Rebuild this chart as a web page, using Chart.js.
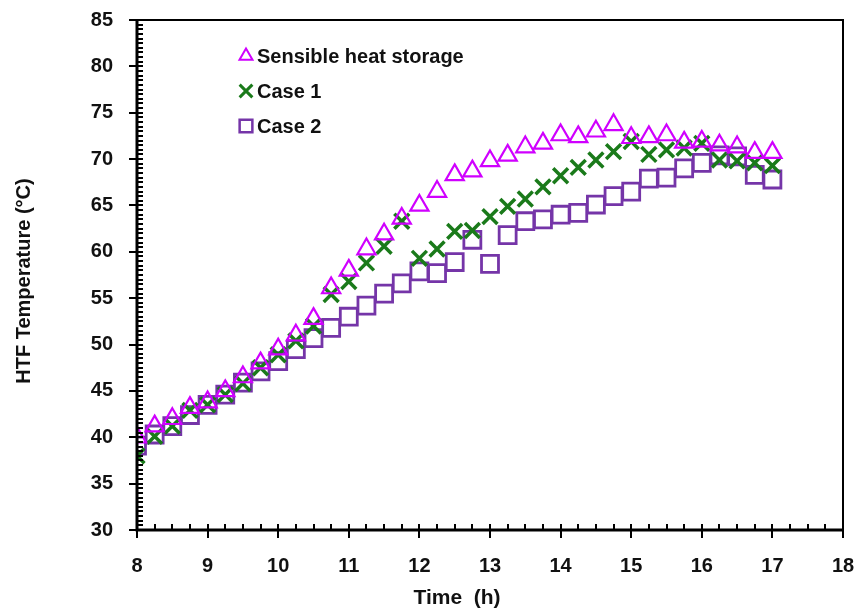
<!DOCTYPE html>
<html>
<head>
<meta charset="utf-8">
<script src="https://cdn.jsdelivr.net/npm/chart.js@4.4.1/dist/chart.umd.min.js"></script>
<style>
html,body{margin:0;padding:0;background:#fff;}
#wrap{width:859px;height:614px;position:relative;}
</style>
</head>
<body>
<div id="wrap"><canvas id="c" width="859" height="614"></canvas></div>
<script>
const timeH = [8,8.25,8.5,8.75,9,9.25,9.5,9.75,10,10.25,10.5,10.75,11,11.25,11.5,11.75,12,12.25,12.5,12.75,13,13.25,13.5,13.75,14,14.25,14.5,14.75,15,15.25,15.5,15.75,16,16.25,16.5,16.75,17];
const sensible = [40.0,41.2,42.0,43.2,43.8,45.0,46.5,48.0,49.5,51.0,52.8,56.1,58.0,60.3,61.9,63.6,65.0,66.5,68.3,68.7,69.8,70.4,71.3,71.7,72.6,72.4,73.0,73.7,72.3,72.4,72.6,71.8,71.9,71.5,71.3,70.7,70.7];
const case1 = [38.0,40.1,41.2,42.9,43.5,44.6,45.8,47.5,48.9,50.4,52.0,55.4,56.8,58.8,60.6,63.3,59.3,60.3,62.2,62.3,63.8,64.9,65.7,67.0,68.2,69.1,69.9,70.8,71.9,70.5,71.0,71.2,71.7,69.9,69.8,69.6,69.3];
const case2 = [39.1,40.3,41.2,42.4,43.5,44.6,45.9,47.1,48.2,49.5,50.7,51.8,53.0,54.2,55.5,56.6,57.9,57.7,58.9,61.3,58.7,61.8,63.3,63.5,64.0,64.2,65.1,66.0,66.5,67.9,68.0,69.0,69.6,70.4,70.3,68.3,67.8];
const seriesNames = ["Sensible heat storage","Case 1","Case 2"];
const xTicks = [8,9,10,11,12,13,14,15,16,17,18];
const yTicks = [30,35,40,45,50,55,60,65,70,75,80,85];
const xMinorStep = 0.25;
const yMinorStep = 0.5;
const xTitle = 'Time  (h)';
const yTitle = 'HTF Temperature (°C)';

const FONT = "'Liberation Sans', Arial, sans-serif";
const pts = arr => arr.map((v,i)=>({x:timeH[i], y:v}));

const framePlugin = {
  id:'frame',
  afterDraw(chart){
    const ctx = chart.ctx, a = chart.chartArea;
    const xs = chart.scales.x, ys = chart.scales.y;
    ctx.save();
    ctx.strokeStyle = '#000';
    ctx.lineWidth = 2;
    ctx.beginPath();
    ctx.moveTo(a.left, a.top); ctx.lineTo(a.right, a.top); ctx.lineTo(a.right, a.bottom);
    ctx.stroke();
    ctx.lineWidth = 3;
    ctx.beginPath();
    ctx.moveTo(a.left, a.top-1); ctx.lineTo(a.left, a.bottom); ctx.lineTo(a.right+1, a.bottom);
    ctx.stroke();
    ctx.lineWidth = 2;
    const xmin = xTicks[0], xmax = xTicks[xTicks.length-1];
    for (let v = xmin; v <= xmax + 1e-9; v += xMinorStep){
      const px = Math.round(xs.getPixelForValue(v));
      const major = Math.abs(v - Math.round(v)) < 1e-9;
      ctx.beginPath();
      if (major){ ctx.moveTo(px, a.bottom-6); ctx.lineTo(px, a.bottom+8); }
      else { ctx.moveTo(px, a.bottom-6); ctx.lineTo(px, a.bottom); }
      ctx.stroke();
    }
    const ymin = yTicks[0], ymax = yTicks[yTicks.length-1];
    for (let v = ymin; v <= ymax + 1e-9; v += yMinorStep){
      const py = Math.round(ys.getPixelForValue(v));
      const major = Math.abs(v/5 - Math.round(v/5)) < 1e-9;
      ctx.beginPath();
      if (major){ ctx.moveTo(a.left-8, py); ctx.lineTo(a.left+6, py); }
      else { ctx.moveTo(a.left, py); ctx.lineTo(a.left+6, py); }
      ctx.stroke();
    }
    // axis titles
    ctx.fillStyle = '#111';
    ctx.textAlign = 'center';
    ctx.textBaseline = 'middle';
    ctx.font = "bold 21px " + FONT;
    ctx.fillText(xTitle, 457, 598);
    ctx.save();
    ctx.translate(24, 281);
    ctx.rotate(-Math.PI/2);
    ctx.font = "bold 20px " + FONT;
    ctx.fillText(yTitle, 0, 0);
    ctx.restore();
    // legend
    const lx = 246, ly0 = 56, dy = 35;
    chart.data.datasets.forEach((ds,i)=>{
      const y = ly0 + i*dy;
      ctx.strokeStyle = ds.borderColor;
      ctx.fillStyle = 'rgba(0,0,0,0)';
      ctx.lineWidth = ds.legendBorder;
      Chart.helpers.drawPoint(ctx, {pointStyle: ds.pointStyle, radius: ds.legendRadius, rotation:0, borderWidth: ds.legendBorder}, lx, y);
      ctx.fillStyle = '#111';
      ctx.font = "bold 20px " + FONT;
      ctx.textBaseline = 'middle';
      ctx.textAlign = 'left';
      ctx.fillText(ds.label, lx + 11, y + 1);
    });
    ctx.restore();
  }
};

new Chart(document.getElementById('c'), {
  type:'scatter',
  data:{
    datasets:[
      {label:seriesNames[0], data:pts(sensible), pointStyle:'triangle', pointRadius:10.5, pointBorderWidth:2.2, borderColor:'#D000FF', backgroundColor:'rgba(255,255,255,0)', legendRadius:7.5, legendBorder:2, showLine:false},
      {label:seriesNames[1], data:pts(case1), pointStyle:'crossRot', pointRadius:10.5, pointBorderWidth:3.5, borderColor:'#1A7A1A', backgroundColor:'rgba(255,255,255,0)', legendRadius:9, legendBorder:3, showLine:false},
      {label:seriesNames[2], data:pts(case2), pointStyle:'rect', pointRadius:12, pointBorderWidth:2.8, borderColor:'#7535A8', backgroundColor:'rgba(255,255,255,0)', legendRadius:9, legendBorder:2.5, showLine:false}
    ]
  },
  options:{
    responsive:false,
    animation:false,
    devicePixelRatio:1,
    layout:{padding:{top:20,right:16,left:0,bottom:0}},
    plugins:{legend:{display:false}, tooltip:{enabled:false}},
    scales:{
      x:{
        type:'linear', min:8, max:18,
        afterBuildTicks(s){ s.ticks = xTicks.map(v=>({value:v})); },
        afterFit(s){ s.height = 84; s.paddingLeft = 0; s.paddingRight = 0; },
        grid:{display:false, drawTicks:false},
        border:{display:false},
        ticks:{padding:24, color:'#111', font:{family:FONT, size:20, weight:'bold'}, maxRotation:0},
        title:{display:false}
      },
      y:{
        type:'linear', min:30, max:85,
        afterBuildTicks(s){ s.ticks = yTicks.map(v=>({value:v})); },
        afterFit(s){ s.width = 137; s.paddingTop = 0; s.paddingBottom = 0; },
        grid:{display:false, drawTicks:false},
        border:{display:false},
        ticks:{padding:24, color:'#111', font:{family:FONT, size:20, weight:'bold'}},
        title:{display:false}
      }
    }
  },
  plugins:[framePlugin]
});
</script>
</body>
</html>
